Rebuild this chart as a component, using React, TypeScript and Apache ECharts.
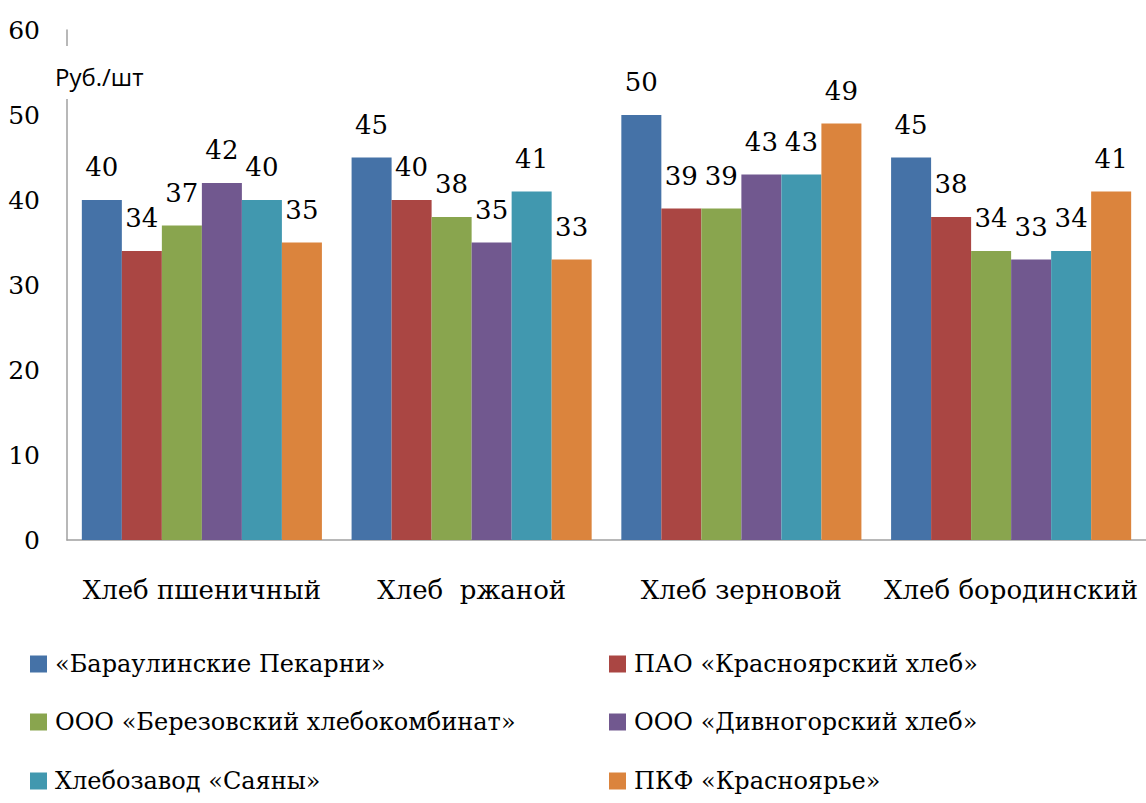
import React, { useEffect, useRef } from "react";
import * as echarts from "echarts";

const categories = ["Хлеб пшеничный", "Хлеб  ржаной", "Хлеб зерновой", "Хлеб бородинский"];
const seriesNames = [
  "«Бараулинские Пекарни»",
  "ПАО «Красноярский хлеб»",
  "ООО «Березовский хлебокомбинат»",
  "ООО «Дивногорский хлеб»",
  "Хлебозавод «Саяны»",
  "ПКФ «Красноярье»",
];
const barau = [40, 45, 50, 45];
const krasHleb = [34, 40, 39, 38];
const berez = [37, 38, 39, 34];
const divno = [42, 35, 43, 33];
const sayany = [40, 41, 43, 34];
const krasnoyarye = [35, 33, 49, 41];
const seriesValues = [barau, krasHleb, berez, divno, sayany, krasnoyarye];
const colors = ["#4572A7", "#AA4643", "#89A54E", "#71588F", "#4198AF", "#DB843D"];
const yTicks = { min: 0, max: 60, interval: 10 };
const unitLabel = "Руб./шт";

const serif = "DejaVu Serif";

export default function App() {
  const ref = useRef<HTMLDivElement>(null);
  useEffect(() => {
    if (!ref.current) return;
    const chart = echarts.init(ref.current, null, { renderer: "svg" });
    const legendPos = [
      { left: 30, top: 652 },
      { left: 609, top: 652 },
      { left: 30, top: 710 },
      { left: 609, top: 710 },
      { left: 30, top: 769 },
      { left: 609, top: 769 },
    ];
    chart.setOption({
      animation: false,
      backgroundColor: "#ffffff",
      grid: { left: 67, right: 0, top: 30, bottom: 263, containLabel: false },
      legend: seriesNames.map((n, i) => ({
        data: [n],
        left: legendPos[i].left,
        top: legendPos[i].top,
        padding: 0,
        itemWidth: 17,
        itemHeight: 17,
        itemGap: 0,
        icon: "rect",
        textStyle: { fontFamily: serif, fontSize: 24, color: "#000", padding: [0, 0, 0, 3] },
        selectedMode: false,
      })),
      xAxis: {
        type: "category",
        data: categories,
        axisLine: { show: true, lineStyle: { color: "#A0A0A0", width: 1.5 } },
        axisTick: { show: false },
        axisLabel: { interval: 0, fontFamily: serif, fontSize: 26, color: "#000", margin: 37 },
      },
      yAxis: {
        type: "value",
        min: yTicks.min,
        max: yTicks.max,
        interval: yTicks.interval,
        axisLine: { show: true, lineStyle: { color: "#A0A0A0", width: 1.5 } },
        axisTick: { show: false },
        splitLine: { show: false },
        axisLabel: { fontFamily: serif, fontSize: 25, color: "#000", margin: 27 },
      },
      series: seriesValues.map((vals, i) => ({
        type: "bar",
        name: seriesNames[i],
        data: vals,
        barGap: "0%",
        barCategoryGap: "11%",
        itemStyle: { color: colors[i] },
        label: {
          show: true,
          position: "top",
          distance: 20,
          fontFamily: serif,
          fontSize: 26,
          color: "#000",
        },
      })),
      graphic: [
        { type: "rect", z: 100, shape: { x: 60, y: 46, width: 14, height: 53 }, style: { fill: "#fff" } },
        {
          type: "text",
          z: 101,
          x: 55,
          y: 76,
          style: { text: unitLabel, font: "24px Open Sans", fill: "#000", verticalAlign: "middle" },
        },
      ],
    });
    return () => chart.dispose();
  }, []);
  return <div ref={ref} style={{ position: "fixed", left: 0, top: 0, width: 1146, height: 803 }} />;
}
